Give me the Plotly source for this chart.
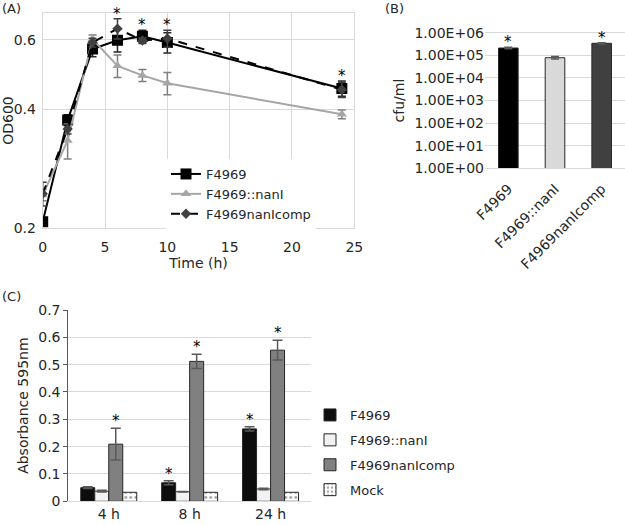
import math
import plotly.graph_objects as go

# ---------------- Data ----------------
# Panel A: growth curves (OD600)
time_h = [0, 2, 4, 6, 8, 10, 24]
od_f4969 = [0.207, 0.375, 0.568, 0.598, 0.612, 0.590, 0.451]
od_f4969_err = [0.005, 0.012, 0.025, 0.040, 0.022, 0.035, 0.020]
od_nanI = [0.242, 0.333, 0.602, 0.515, 0.487, 0.465, 0.388]
od_nanI_err = [0.008, 0.034, 0.015, 0.034, 0.017, 0.030, 0.010]
od_comp = [0.244, 0.356, 0.590, 0.640, 0.597, 0.604, 0.448]
od_comp_err = [0.017, 0.010, 0.015, 0.038, 0.010, 0.030, 0.020]
star_times_a = [6, 8, 10, 24]

# Panel B: cfu/ml
strains = ["F4969", "F4969::nanI", "F4969nanIcomp"]
cfu = [2.1e5, 7.8e4, 3.4e5]
cfu_err = [1.5e4, 1.0e4, 2.0e4]
star_strains_b = ["F4969", "F4969nanIcomp"]

# Panel C: absorbance 595nm
timepoints = ["4 h", "8 h", "24 h"]
abs_f4969 = [0.050, 0.068, 0.265]
abs_f4969_err = [0.003, 0.007, 0.008]
abs_nanI = [0.037, 0.035, 0.045]
abs_nanI_err = [0.003, 0.001, 0.003]
abs_comp = [0.209, 0.512, 0.553]
abs_comp_err = [0.058, 0.026, 0.036]
abs_mock = [0.033, 0.033, 0.033]
abs_mock_err = [0.0, 0.0, 0.0]
stars_c = [("F4969", "8 h"), ("F4969", "24 h"),
           ("F4969nanIcomp", "4 h"), ("F4969nanIcomp", "8 h"), ("F4969nanIcomp", "24 h")]

# ---------------- Figure ----------------
W, H = 625, 525
FONT = "DejaVu Sans"
TXT = "#262626"
GRID = "#d9d9d9"

def px_x(p):
    return p / W

def px_y(p):
    return 1 - p / H

fig = go.Figure()

# ---- Panel A ----
def err(vals, col):
    return dict(type="data", array=vals, visible=True, color=col, thickness=1.5, width=4)

fig.add_trace(go.Scatter(
    x=time_h, y=od_f4969, name="F4969", mode="lines+markers",
    line=dict(color="#000000", width=2),
    marker=dict(symbol="square", size=11, color="#000000"),
    error_y=err(od_f4969_err, "#262626"), xaxis="x", yaxis="y", legend="legend"))
fig.add_trace(go.Scatter(
    x=time_h, y=od_nanI, name="F4969::nanI", mode="lines+markers",
    line=dict(color="#a6a6a6", width=2),
    marker=dict(symbol="triangle-up", size=9, color="#a6a6a6"),
    error_y=err(od_nanI_err, "#7f7f7f"), xaxis="x", yaxis="y", legend="legend"))
fig.add_trace(go.Scatter(
    x=time_h, y=od_comp, name="F4969nanIcomp", mode="lines+markers",
    line=dict(color="#000000", width=2, dash="dash"),
    marker=dict(symbol="diamond", size=8, color="#404040"),
    error_y=err(od_comp_err, "#404040"), xaxis="x", yaxis="y", legend="legend"))

STARFONT = dict(family=FONT, size=15, color="#000000")
annotations = []
for t in star_times_a:
    i = time_h.index(t)
    top = max(od_f4969[i] + od_f4969_err[i], od_nanI[i] + od_nanI_err[i],
              od_comp[i] + od_comp_err[i])
    annotations.append(dict(x=t, y=math.log10(top), xref="x", yref="y", text="*",
                            showarrow=False, yanchor="middle", yshift=5, font=STARFONT))

# ---- Panel B ----
fig.add_trace(go.Bar(
    x=strains, y=cfu, marker=dict(color=["#000000", "#d9d9d9", "#404040"],
                                  line=dict(color="#262626", width=1)),
    width=0.42, error_y=dict(type="data", array=cfu_err, visible=True, color="#595959",
                             thickness=1.5, width=4),
    showlegend=False, xaxis="x2", yaxis="y2"))
for s in star_strains_b:
    i = strains.index(s)
    annotations.append(dict(x=s, y=math.log10(cfu[i] + cfu_err[i]), xref="x2", yref="y2",
                            text="*", showarrow=False, yanchor="middle", yshift=5,
                            font=STARFONT))

# ---- Panel C ----
series_c = [
    ("F4969", abs_f4969, abs_f4969_err, dict(color="#0d0d0d")),
    ("F4969::nanI", abs_nanI, abs_nanI_err, dict(color="#f2f2f2")),
    ("F4969nanIcomp", abs_comp, abs_comp_err, dict(color="#808080")),
    ("Mock", abs_mock, abs_mock_err, dict(color="#ffffff",
                                          pattern=dict(shape=".", fgcolor="#404040",
                                                       bgcolor="#ffffff", size=5, solidity=0.25))),
]
bw = 0.173
for k, (name, vals, errs, mk) in enumerate(series_c):
    mk = dict(mk)
    mk["line"] = dict(color="#262626", width=1)
    fig.add_trace(go.Bar(
        x=timepoints, y=vals, name=name, marker=mk, width=bw, offset=-2 * bw + k * bw,
        error_y=dict(type="data", array=errs, visible=any(e > 0 for e in errs),
                     color="#595959", thickness=1.5, width=5),
        xaxis="x3", yaxis="y3", legend="legend2", legendgroup=name))
names_c = [s[0] for s in series_c]
for name, tp in stars_c:
    k = names_c.index(name)
    vals, errs = series_c[k][1], series_c[k][2]
    j = timepoints.index(tp)
    annotations.append(dict(x=j - 2 * bw + (k + 0.5) * bw, y=vals[j] + errs[j],
                            xref="x3", yref="y3", text="*", showarrow=False,
                            yanchor="middle", yshift=7, font=STARFONT))

# panel labels
for lab, xp, yp in [("(A)", 0, 8), ("(B)", 383, 8), ("(C)", 0, 296)]:
    annotations.append(dict(x=px_x(xp), y=px_y(yp), xref="paper", yref="paper", text=lab,
                            showarrow=False, xanchor="left", yanchor="middle",
                            font=dict(family=FONT, size=13, color=TXT)))

tickfont = dict(family=FONT, size=14, color=TXT)
titlefont = dict(family=FONT, size=14, color=TXT)

fig.update_layout(
    width=W, height=H, margin=dict(l=0, r=0, t=0, b=0, autoexpand=False),
    paper_bgcolor="white", plot_bgcolor="white",
    font=dict(family=FONT, color=TXT),
    barmode="group",
    annotations=annotations,
    # Panel A axes
    xaxis=dict(domain=[px_x(42.7), px_x(354.3)], range=[0, 25], tickvals=[0, 5, 10, 15, 20, 25],
               showgrid=True, gridcolor=GRID, zeroline=False, showline=True, mirror=True,
               linecolor=GRID, tickfont=tickfont, ticklabelstandoff=6, automargin=False,
               title=dict(text="Time (h)", font=titlefont, standoff=4), anchor="y"),
    yaxis=dict(domain=[px_y(227.7), px_y(13.3)], type="log",
               range=[math.log10(0.2), math.log10(0.7)], tickvals=[0.2, 0.4, 0.6, 0.7],
               ticktext=["0.2", "0.4", "0.6", ""], showgrid=True, gridcolor=GRID,
               zeroline=False, showline=True, mirror=True, linecolor=GRID,
               tickfont=tickfont, ticklabelstandoff=3, automargin=False,
               title=dict(text="OD600", font=titlefont, standoff=4), anchor="x"),
    # Panel B axes
    xaxis2=dict(domain=[px_x(485), 1.0], showgrid=False, zeroline=False, showline=True,
                mirror=True, linecolor=GRID, tickangle=-45, tickfont=tickfont,
                ticklabelstandoff=6, automargin=False, anchor="y2"),
    yaxis2=dict(domain=[px_y(168.3), px_y(32.7)], type="log", range=[0, 6],
                tickvals=[1, 10, 100, 1e3, 1e4, 1e5, 1e6],
                ticktext=["1.00E+00", "1.00E+01", "1.00E+02", "1.00E+03", "1.00E+04",
                          "1.00E+05", "1.00E+06"],
                showgrid=True, gridcolor=GRID, zeroline=False, showline=False,
                tickfont=tickfont, automargin=False,
                title=dict(text="cfu/ml", font=titlefont, standoff=6), anchor="x2"),
    # Panel C axes
    xaxis3=dict(domain=[px_x(68.3), px_x(311)], showgrid=False, zeroline=False,
                showline=True, linecolor=GRID, tickfont=tickfont, automargin=False,
                anchor="y3"),
    yaxis3=dict(domain=[px_y(501.3), px_y(310)], range=[0, 0.7],
                tickvals=[0, 0.1, 0.2, 0.3, 0.4, 0.5, 0.6, 0.7],
                ticktext=["0", "0.1", "0.2", "0.3", "0.4", "0.5", "0.6", "0.7"],
                showgrid=True, gridcolor=GRID, zeroline=False, showline=True,
                linecolor="#595959", ticks="outside", ticklen=4, tickcolor="#595959",
                tickfont=tickfont, automargin=False,
                title=dict(text="Absorbance 595nm", font=titlefont, standoff=6),
                anchor="x3"),
    legend=dict(x=px_x(166), y=px_y(159), xanchor="left", yanchor="top",
                bgcolor="white", borderwidth=0, font=dict(family=FONT, size=13, color=TXT),
                tracegroupgap=0),
    legend2=dict(x=px_x(310), y=px_y(400), xanchor="left", yanchor="top",
                 bgcolor="rgba(0,0,0,0)", borderwidth=0, traceorder="grouped",
                 tracegroupgap=5, font=dict(family=FONT, size=13, color=TXT)),
)

fig.write_html("out.html", config={"displayModeBar": False},
               post_script="document.body.style.margin='0';document.body.style.overflow='hidden';")
